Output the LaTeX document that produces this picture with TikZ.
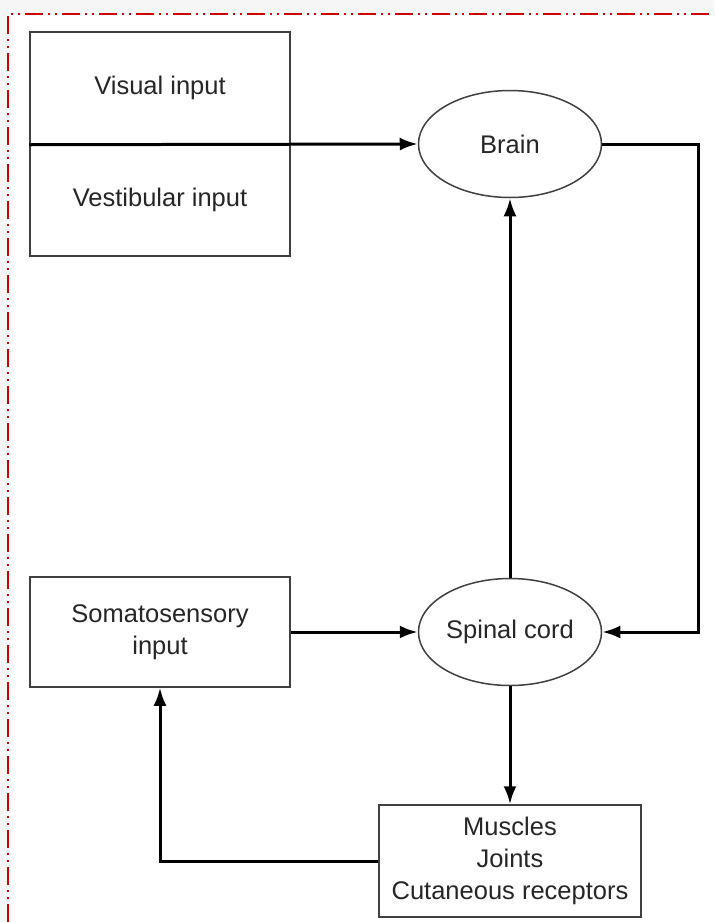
\documentclass[tikz,border=0pt]{standalone}
\usepackage{fontspec}
\setmainfont{Liberation Sans}
\usetikzlibrary{positioning, shapes.geometric, arrows.meta, calc}

\begin{document}
\begin{tikzpicture}[
		x=0.5pt, y=-0.5pt,
		box/.style={rectangle, draw=black!75, line width=0.75pt, fill=white, minimum width=130pt, inner sep=0pt, align=center},
		organ/.style={ellipse, draw=black!75, line width=0.75pt, fill=white, minimum width=91.5pt, minimum height=53.5pt, inner sep=0pt},
		flow/.style={line width=1.5pt, -{Latex[length=9pt,width=6.5pt]}},
		every node/.style={font=\fontsize{12.75}{16}\selectfont, text=black!85}]
		\useasboundingbox (0,0) rectangle (714,922);
		\fill[gray!7] (0,0) rectangle (714,922);
		\fill[white] (8,14) rectangle (714,922);
		\draw[red!80!black, line width=0.8pt, dash pattern=on 9pt off 2.5pt on 1pt off 2.5pt on 1pt off 2.5pt] (8,922) -- (8,14) -- (714,14);

		\node[box, minimum height=56pt] (visual) at (160,88)  {Visual input};
		\node[box, minimum height=56pt] (vestib) at (160,200) {Vestibular input};
		\node[box, minimum height=55pt] (somato) at (160,632) {Somatosensory\\input};
		\node[organ] (brain)  at (510,144) {Brain};
		\node[organ] (spinal) at (510,632) {Spinal cord};
		\node[box, minimum width=131pt, minimum height=56pt] (muscles) at (510,861) {Muscles\\Joints\\Cutaneous receptors};
		\coordinate (loop) at (698,400);

		\draw[flow] (visual.south west) -- (brain.west);
		\draw[flow] (brain.east) -| (loop) |- (spinal.east);
		\draw[flow] (somato.east) -- (spinal.west);
		\draw[flow] (spinal.north) -- (brain.south);
		\draw[flow] (spinal.south) -- (muscles.north);
		\draw[flow] (muscles.west) -| (somato.south);

\end{tikzpicture}
\end{document}
